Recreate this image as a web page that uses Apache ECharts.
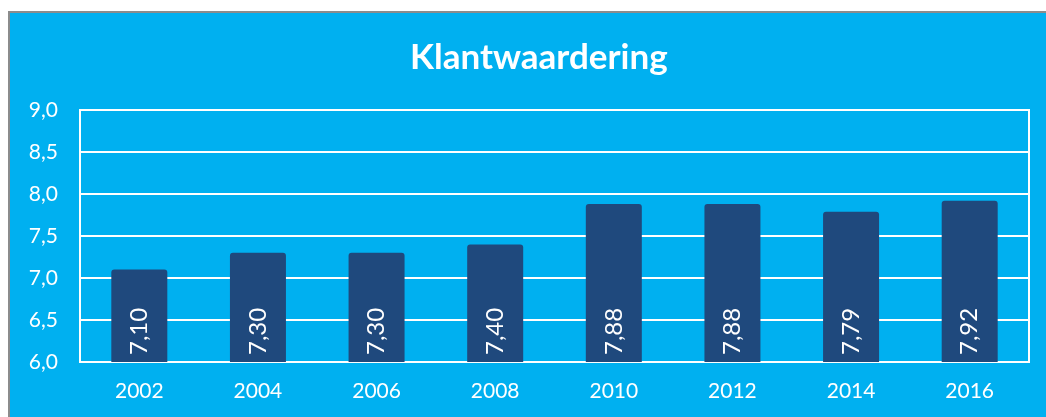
<!DOCTYPE html>
<html>
<head>
<meta charset="utf-8">
<script src="https://cdn.jsdelivr.net/npm/echarts@6/dist/echarts.min.js"></script>
<style>
    html, body { margin: 0; padding: 0; background: #fff; }
    #frame {
        position: absolute; left: 8px; top: 11px; right: 0; bottom: 0;
        background: #00B0F0;
        border-left: 2px solid #8c8c8c; border-top: 2px solid #8c8c8c;
    }
    #chart { position: absolute; left: 0; top: 0; width: 1046px; height: 417px; }
</style>
</head>
<body>
<div id="frame"></div>
<div id="chart"></div>
<script>
// jaren en klantwaardering
var years = ['2002', '2004', '2006', '2008', '2010', '2012', '2014', '2016'];
var scores = [7.10, 7.30, 7.30, 7.40, 7.88, 7.88, 7.79, 7.92];

var yMin = 6.0;
var yMax = 9.0;
var yStep = 0.5;

function komma(v, n) {
    return Number(v).toFixed(n).replace('.', ',');
}

var dom = document.getElementById('chart');
var myChart = echarts.init(dom);
var option = {
    textStyle: { fontFamily: 'Lato' },
    title: {
        text: 'Klantwaardering',
        left: 405,
        top: 35,
        textStyle: {
            color: '#fff',
            fontFamily: 'Lato',
            fontWeight: 'bold',
            fontSize: 35
        }
    },
    grid: {
        left: 80,
        right: 17,
        top: 110,
        bottom: 55,
        show: true,
        borderColor: '#fff',
        borderWidth: 2,
        containLabel: false
    },
    xAxis: {
        type: 'category',
        data: years,
        axisLine: { lineStyle: { color: '#fff', width: 2 } },
        axisTick: { show: false },
        axisLabel: { color: '#fff', fontSize: 21, margin: 19, fontFamily: 'Lato' }
    },
    yAxis: {
        type: 'value',
        min: yMin,
        max: yMax,
        interval: yStep,
        axisLine: { show: true, lineStyle: { color: '#fff', width: 2 } },
        axisTick: { show: false },
        splitLine: { lineStyle: { color: '#fff', width: 2 } },
        axisLabel: {
            color: '#fff',
            fontSize: 21,
            margin: 22,
            fontFamily: 'Lato',
            formatter: function (v) { return komma(v, 1); }
        }
    },
    series: [
        {
            type: 'bar',
            data: scores,
            barWidth: 56,
            itemStyle: { color: '#1F497D', borderRadius: [3, 3, 0, 0] },
            label: {
                show: true,
                position: 'insideBottom',
                rotate: 90,
                align: 'left',
                verticalAlign: 'middle',
                distance: 7,
                color: '#fff',
                fontSize: 24,
                fontFamily: 'Lato',
                formatter: function (p) { return komma(p.value, 2); }
            }
        }
    ]
};
myChart.setOption(option);
</script>
</body>
</html>
